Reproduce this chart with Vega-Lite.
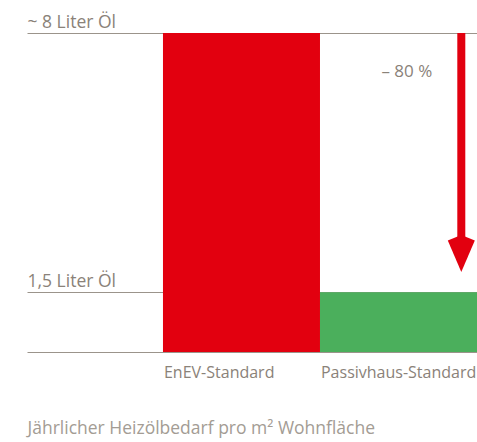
{
  "$schema": "https://vega.github.io/schema/vega-lite/v6.json",
  "width": 450,
  "height": 319,
  "autosize": {"type": "none"},
  "padding": {"left": 27, "top": 33, "right": 0, "bottom": 90},
  "background": "white",
  "config": {"view": {"stroke": null}, "font": "Open Sans"},
  "datasets": {
    "bars": [
      {"standard": "EnEV-Standard", "liter": 8},
      {"standard": "Passivhaus-Standard", "liter": 1.5}
    ],
    "arrow": [
      {"standard": "Passivhaus-Standard", "start": 8, "end": 2.6, "tip": 2.47, "label": "– 80 %", "labelAt": 6.9}
    ]
  },
  "layer": [
    {
      "data": {"name": "bars"},
      "mark": {"type": "bar"},
      "encoding": {
        "x": {
          "field": "standard", "type": "nominal", "sort": null,
          "scale": {"paddingInner": 0, "paddingOuter": 0.433, "align": 1},
          "axis": {
            "title": "Jährlicher Heizölbedarf pro m² Wohnfläche",
            "labelAlign": "left",
            "labelBaseline": "alphabetic",
            "labelPadding": 25,
            "labelOffset": -77.5,
            "ticks": false,
            "tickSize": 0,
            "labelAngle": 0,
            "labelFontSize": 16,
            "labelColor": "#8a8279",
            "labelBound": false,
            "labelFlush": false,
            "labelOverlap": false,
            "domainColor": "#9b948b",
            "domainWidth": 1,
            "titleAnchor": "start",
            "titleAlign": "left",
            "titleX": 0,
            "titleY": 81,
            "titleBaseline": "alphabetic",
            "titleFontSize": 17.5,
            "titleFontWeight": "normal",
            "titleColor": "#a39c94"
          }
        },
        "y": {
          "field": "liter", "type": "quantitative",
          "scale": {"domain": [0, 8]},
          "axis": {
            "values": [1.5, 8],
            "labelExpr": "datum.value == 8 ? '~ 8 Liter Öl' : '1,5 Liter Öl'",
            "title": null,
            "domain": false,
            "ticks": false,
            "tickSize": 0,
            "labelAlign": "left",
            "labelBaseline": "alphabetic",
            "labelPadding": 0,
            "labelOffset": -6,
            "labelFontSize": 17.5,
            "labelColor": "#8a8279",
            "grid": true,
            "gridColor": "#9b948b",
            "gridWidth": 1,
            "gridOpacity": 1
          }
        },
        "color": {
          "field": "standard", "type": "nominal",
          "scale": {"domain": ["EnEV-Standard", "Passivhaus-Standard"], "range": ["#e2000f", "#4baf5c"]},
          "legend": null
        }
      }
    },
    {
      "data": {"name": "arrow"},
      "mark": {"type": "rule", "strokeWidth": 8, "color": "#e2000f"},
      "encoding": {
        "x": {"field": "standard", "type": "nominal", "bandPosition": 0.9},
        "y": {"field": "start", "type": "quantitative"},
        "y2": {"field": "end"}
      }
    },
    {
      "data": {"name": "arrow"},
      "mark": {"type": "point", "shape": "M0,-1 L0.73,-0.7 L0,1 L-0.73,-0.7 Z", "filled": true, "opacity": 1, "size": 1369, "color": "#e2000f", "strokeWidth": 0},
      "encoding": {
        "x": {"field": "standard", "type": "nominal", "bandPosition": 0.9},
        "y": {"field": "tip", "type": "quantitative"}
      }
    },
    {
      "data": {"name": "arrow"},
      "mark": {"type": "text", "align": "right", "baseline": "alphabetic", "fontSize": 17, "color": "#8a8279"},
      "encoding": {
        "x": {"field": "standard", "type": "nominal", "bandPosition": 0.715},
        "y": {"field": "labelAt", "type": "quantitative"},
        "text": {"field": "label"}
      }
    }
  ]
}
